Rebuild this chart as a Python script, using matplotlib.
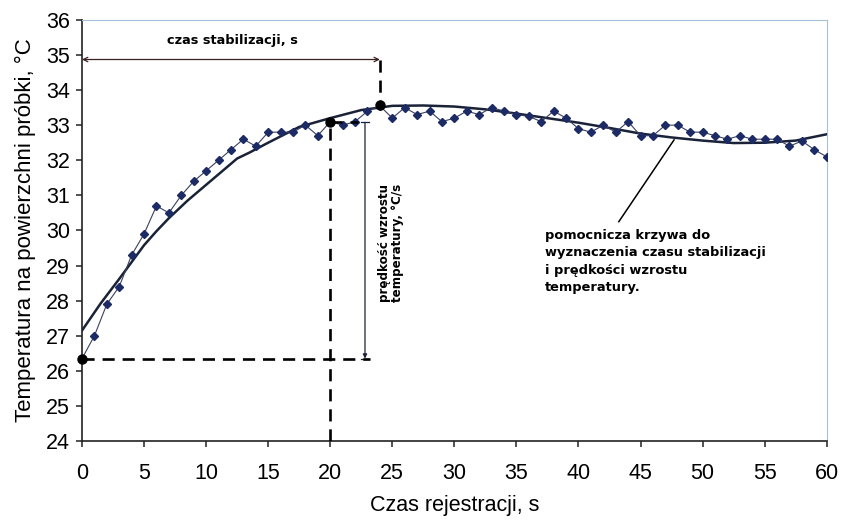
import numpy as np
import matplotlib.pyplot as plt

# pomiary: czas [s] i temperatura [°C]
czas = np.arange(0, 61)
temp = [26.35, 27.0, 27.9, 28.4, 29.3, 29.9, 30.7, 30.5, 31.0, 31.4,
        31.7, 32.0, 32.3, 32.6, 32.4, 32.8, 32.8, 32.8, 33.0, 32.7,
        33.1, 33.0, 33.1, 33.4, 33.55, 33.2, 33.5, 33.3, 33.4, 33.1,
        33.2, 33.4, 33.3, 33.5, 33.4, 33.3, 33.25, 33.1, 33.4, 33.2,
        32.9, 32.8, 33.0, 32.8, 33.1, 32.7, 32.7, 33.0, 33.0, 32.8,
        32.8, 32.7, 32.6, 32.7, 32.6, 32.6, 32.6, 32.4, 32.55, 32.3,
        32.1]

# krzywa pomocnicza
czas_krz = [0, 1.5, 3, 4, 5, 6, 7, 8.5, 10, 11, 12.5, 13.5, 15, 17.5, 20,
            22.5, 25, 27.5, 30, 32.5, 35, 37.5, 40, 42.5, 45, 47.5, 50,
            52.5, 55, 57.5, 60]
temp_krz = [27.15, 27.92, 28.62, 29.1, 29.58, 29.98, 30.35, 30.85, 31.3,
            31.6, 32.05, 32.22, 32.5, 32.95, 33.2, 33.43, 33.55, 33.56,
            33.53, 33.45, 33.33, 33.2, 33.07, 32.92, 32.76, 32.65, 32.56,
            32.49, 32.5, 32.56, 32.74]

# punkty charakterystyczne
pkt_x = [0, 20, 24]
pkt_y = [26.35, 33.08, 33.57]

plt.rcParams['font.family'] = ['Liberation Sans', 'DejaVu Sans']

fig = plt.figure(figsize=(8.41, 5.22), dpi=100)
ax = fig.add_axes([0.0975, 0.155, 0.8855, 0.807])

granat = "#1c2a66"
ax.plot(czas_krz, temp_krz, color="#1a2238", lw=1.8, zorder=3)
ax.plot(czas, temp, color="#3a4060", lw=0.8, marker="D", ms=4,
        mfc=granat, mec=granat, zorder=4)

kreska = dict(color="black", lw=1.9, linestyle=(0, (4.6, 3.0)), zorder=5)
ax.plot([20, 20], [24, pkt_y[1]], **kreska)
ax.plot([0, 23.2], [pkt_y[0], pkt_y[0]], **kreska)
ax.plot([20, 22.2], [pkt_y[1], pkt_y[1]], **kreska)
ax.plot([24, 24], [34.87, pkt_y[2]], **kreska)

ax.plot(pkt_x, pkt_y, "o", color="black", ms=6.5, zorder=6, clip_on=False)

# czas stabilizacji
ax.annotate("", xy=(0, 34.87), xytext=(24, 34.87),
            arrowprops=dict(arrowstyle="<->", color="#3a2020", lw=0.9,
                            shrinkA=0, shrinkB=0, mutation_scale=8))
ax.text(12.1, 35.4, "czas stabilizacji, s", ha="center", va="center",
        fontsize=9.3, fontweight="bold", family="DejaVu Sans")

# prędkość wzrostu temperatury
ax.annotate("", xy=(22.8, 26.35), xytext=(22.8, 33.08),
            arrowprops=dict(arrowstyle="-|>", color="#1a2238", lw=0.9,
                            shrinkA=0, shrinkB=0, mutation_scale=6))
ax.plot([22.45, 23.15], [33.08, 33.08], color="#1a2238", lw=0.9)
ax.plot([22.45, 23.15], [26.35, 26.35], color="#1a2238", lw=0.9)
ax.text(24.9, 29.65, "prędkość wzrostu\ntemperatury, °C/s", rotation=90,
        ha="center", va="center", fontsize=8.6, fontweight="bold",
        family="DejaVu Sans", linespacing=0.95)

# opis krzywej pomocniczej
ax.plot([43.25, 47.7], [30.25, 32.58], color="black", lw=1.1, zorder=3)
ax.text(37.3, 30.05, "pomocnicza krzywa do\nwyznaczenia czasu stabilizacji\n"
        "i prędkości wzrostu\ntemperatury.", ha="left", va="top",
        fontsize=9.4, fontweight="bold", family="DejaVu Sans", linespacing=1.45)

ax.set_xlim(0, 60)
ax.set_ylim(24, 36)
ax.set_xticks(np.arange(0, 61, 5))
ax.set_yticks(np.arange(24, 37, 1))
ax.tick_params(axis="both", direction="out", length=4.5, width=1.1,
               labelsize=15.5, color="#222222")
ax.tick_params(axis="x", pad=11)
ax.tick_params(axis="y", pad=4)
for s in ["left", "bottom"]:
    ax.spines[s].set_color("#222222")
    ax.spines[s].set_linewidth(1.2)
for s in ["top", "right"]:
    ax.spines[s].set_color("#a8c0d8")
    ax.spines[s].set_linewidth(0.8)

ax.set_xlabel("Czas rejestracji, s", fontsize=15.5, labelpad=8)
ax.set_ylabel("Temperatura na powierzchni próbki, °C", fontsize=16, labelpad=7)

fig.savefig("out.png", dpi=100)
